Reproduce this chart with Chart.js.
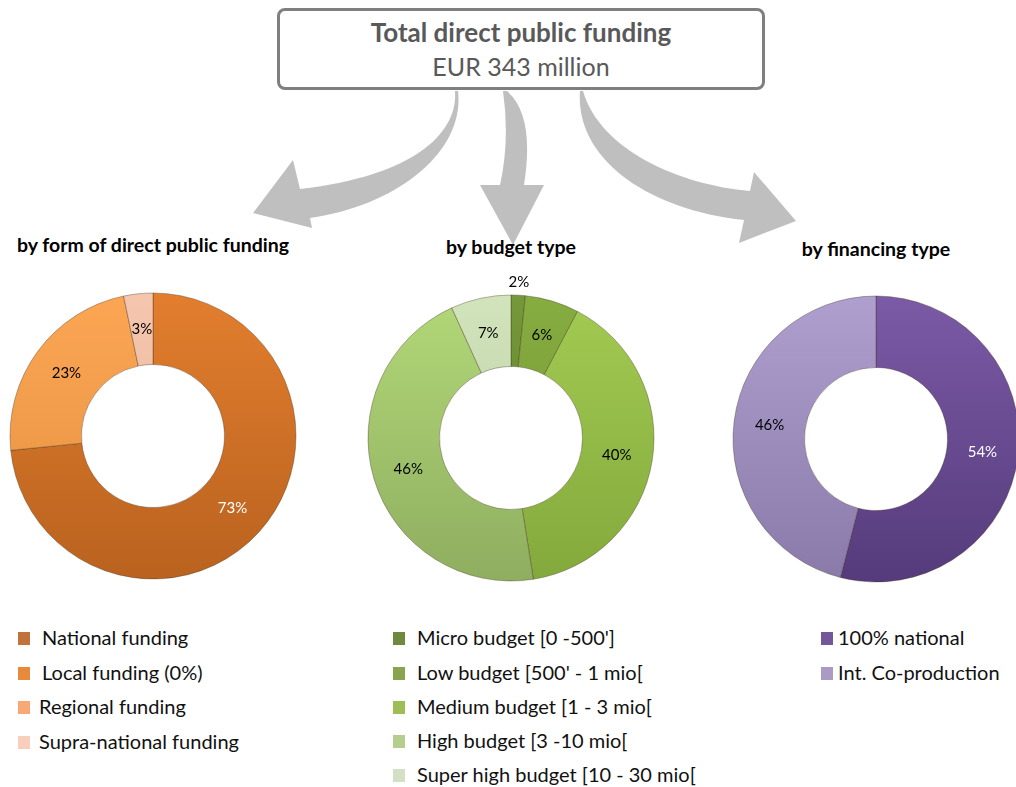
<!DOCTYPE html>
<html>
<head>
<meta charset="utf-8">
<script src="https://cdn.jsdelivr.net/npm/chart.js@4.4.1/dist/chart.umd.min.js"></script>
<style>
  body { margin: 0; width: 1016px; height: 787px; overflow: hidden; position: relative; background: #fff; font-family: Lato, "Open Sans", sans-serif; }
  .box { position: absolute; left: 277px; top: 8px; width: 482px; height: 76px; border: 3px solid #7f7f7f; border-radius: 8px; text-align: center; color: #595959; }
  .box .t1 { font-weight: bold; font-size: 26px; margin-top: 6px; line-height: 30px; }
  .box .t2 { font-size: 25px; margin-top: 4px; line-height: 30px; }
  .sub { position: absolute; width: 400px; text-align: center; font-weight: bold; font-size: 19.5px; color: #000; line-height: 24px; }
  .wrap { position: absolute; width: 340px; height: 340px; }
  .leg { position: absolute; font-size: 20px; color: #111; }
  .leg div { position: absolute; white-space: nowrap; line-height: 24px; }
  .leg span { position: absolute; width: 12px; height: 13px; }
  svg { position: absolute; left: 0; top: 0; }
</style>
</head>
<body>

<svg width="1016" height="300">
  <path fill="#bfbfbf" d="M455,91 L458,91 C465,150 400,205 310,218 L312,228 L253,213 L293,160 L300,189 C420,175 458,130 455,91 Z"/>
  <path fill="#bfbfbf" d="M503,91 Q510,140 500,185 L480,185 L513,245 L544,185 L524,185 Q535,115 507,91 Z"/>
  <path fill="#bfbfbf" d="M580,91 L583,91 C600,150 680,185 750,191 L754,172 L796,221 L739,243 L744,220 C650,210 575,160 580,91 Z"/>
</svg>

<div class="box"><div class="t1">Total direct public funding</div><div class="t2">EUR 343 million</div></div>

<div class="sub" style="left:-47px; top:233px;">by form of direct public funding</div>
<div class="sub" style="left:311px; top:235px;">by budget type</div>
<div class="sub" style="left:676px; top:237px;">by financing type</div>

<div class="wrap" style="left:-17px; top:266px;"><canvas id="donut-1" width="340" height="340"></canvas></div>
<div class="wrap" style="left:341px; top:268px;"><canvas id="donut-2" width="340" height="340"></canvas></div>
<div class="wrap" style="left:706px; top:269px;"><canvas id="donut-3" width="340" height="340"></canvas></div>

<div class="leg" id="leg-1"></div>
<div class="leg" id="leg-2"></div>
<div class="leg" id="leg-3"></div>

<script>
// by form of direct public funding
const formLabels = ['National funding', 'Local funding (0%)', 'Regional funding', 'Supra-national funding'];
const formValues = [73.4, 0, 23.3, 3.3];
const formTop = ['#e27e2e', '#e88a3c', '#fca654', '#f5c6ae'];
const formBottom = ['#b9621f', '#c8732e', '#e3913f', '#e8b298'];
const formLegend = ['#c0743c', '#e88a3c', '#f7a874', '#f9cfbc'];
const formText = ['#ffffff', '#000000', '#000000', '#000000'];

// by budget type
const budgetLabels = ["Micro budget [0 -500']", "Low budget [500' - 1 mio[", 'Medium budget [1 - 3 mio[', 'High budget [3 -10 mio[', 'Super high budget [10 - 30 mio['];
const budgetValues = [1.6, 6.1, 39.8, 45.7, 6.8];
const budgetTop = ['#75983a', '#86ad40', '#a2cb52', '#b2d878', '#d2e4bb'];
const budgetBottom = ['#5f7e2c', '#6f9232', '#83a93c', '#8fae60', '#b5c89f'];
const budgetLegend = ['#6f8a3f', '#89a34e', '#9dbd55', '#b5ce8e', '#d3e0c4'];
const budgetText = ['#000000', '#000000', '#000000', '#000000', '#000000'];

// by financing type
const finLabels = ['100% national', 'Int. Co-production'];
const finValues = [54, 46];
const finTop = ['#7b5aa6', '#ae9fcf'];
const finBottom = ['#553b7b', '#8a7aa9'];
const finLegend = ['#73579a', '#aa9ac4'];
const finText = ['#ffffff', '#000000'];

const R = 143;

const pctLabels = {
    id: 'pctLabels',
    afterDatasetsDraw(chart, args, opts) {
        const ctx = chart.ctx;
        const meta = chart.getDatasetMeta(0);
        const data = chart.data.datasets[0].data;
        let total = 0;
        data.forEach(v => total += v);
        ctx.save();
        ctx.font = '15px Lato';
        ctx.textAlign = 'center';
        ctx.textBaseline = 'middle';
        meta.data.forEach((arc, i) => {
            if (!data[i]) return;
            const p = arc.getProps(['x', 'y', 'startAngle', 'endAngle', 'innerRadius', 'outerRadius'], true);
            const mid = (p.startAngle + p.endAngle) / 2;
            let r = (p.innerRadius + p.outerRadius) / 2;
            if (opts.outside && opts.outside[i]) r = p.outerRadius + 13;
            ctx.fillStyle = opts.colors[i];
            ctx.fillText(Math.round(data[i] / total * 100) + '%', p.x + Math.cos(mid) * r, p.y + Math.sin(mid) * r);
        });
        ctx.restore();
    }
};

function func(a, labels, values, top, bottom, textColors, outside) {
    const ctx = document.getElementById('donut-' + a).getContext('2d');
    const donut = new Chart(ctx, {
        type: 'doughnut',
        data: {
            labels: labels,
            datasets: [{
                data: values,
                backgroundColor: function(c) {
                    const area = c.chart.chartArea;
                    const i = c.dataIndex;
                    if (!area) return bottom[i];
                    const cy = (area.top + area.bottom) / 2;
                    const g = c.chart.ctx.createLinearGradient(0, cy - R, 0, cy + R);
                    g.addColorStop(0, top[i]);
                    g.addColorStop(1, bottom[i]);
                    return g;
                },
                borderColor: 'rgba(60,40,20,0.35)',
                borderWidth: 1
            }]
        },
        options: {
            responsive: false,
            animation: false,
            events: [],
            radius: R,
            cutout: '50%',
            plugins: {
                legend: { display: false },
                tooltip: { enabled: false },
                pctLabels: { colors: textColors, outside: outside }
            }
        },
        plugins: [pctLabels]
    });
}

function legend(a, labels, colors, left, textLeft, tops) {
    const el = document.getElementById('leg-' + a);
    let html = '';
    for (let i = 0; i < labels.length; i++) {
        html += `<span style="left:${left}px; top:${tops[i] - 6}px; background:${colors[i]}"></span>`;
        html += `<div style="left:${textLeft[i]}px; top:${tops[i] - 13}px;">${labels[i]}</div>`;
    }
    el.innerHTML = html;
}

func(1, formLabels, formValues, formTop, formBottom, formText, null);
func(2, budgetLabels, budgetValues, budgetTop, budgetBottom, budgetText, [true, false, false, false, false]);
func(3, finLabels, finValues, finTop, finBottom, finText, null);

legend(1, formLabels, formLegend, 18, [42, 42, 39, 39], [638, 673, 707, 742]);
legend(2, budgetLabels, budgetLegend, 393, [417, 417, 417, 417, 417], [638, 673, 707, 741, 775]);
legend(3, finLabels, finLegend, 821, [838, 838], [638, 673]);
</script>
</body>
</html>
